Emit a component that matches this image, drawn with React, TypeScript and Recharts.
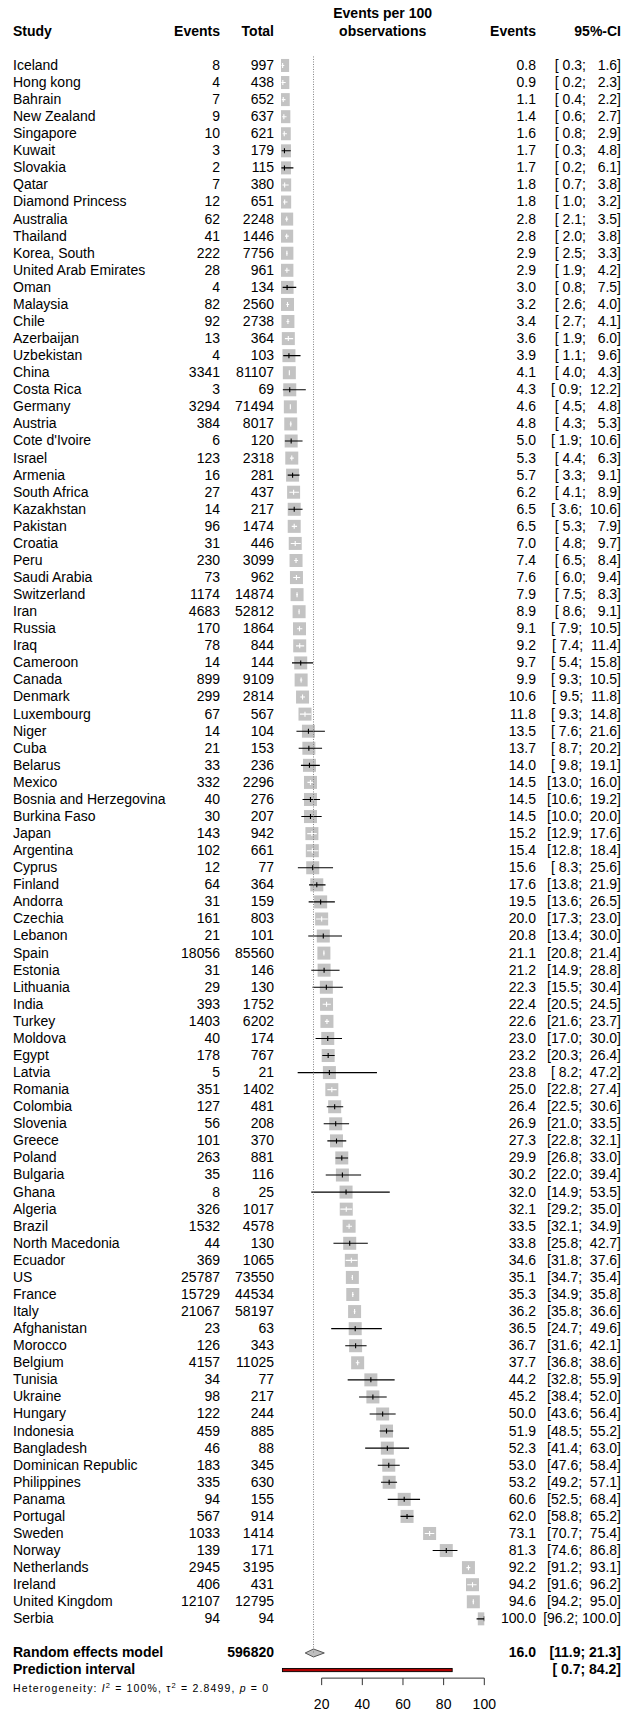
import React from 'react';
import { ComposedChart, Bar, XAxis, YAxis, ReferenceLine } from 'recharts';

const FONT = '"Liberation Sans", Arial, Helvetica, sans-serif';

const studyNames = ["Iceland","Hong kong","Bahrain","New Zealand","Singapore","Kuwait","Slovakia","Qatar","Diamond Princess","Australia","Thailand","Korea, South","United Arab Emirates","Oman","Malaysia","Chile","Azerbaijan","Uzbekistan","China","Costa Rica","Germany","Austria","Cote d'Ivoire","Israel","Armenia","South Africa","Kazakhstan","Pakistan","Croatia","Peru","Saudi Arabia","Switzerland","Iran","Russia","Iraq","Cameroon","Canada","Denmark","Luxembourg","Niger","Cuba","Belarus","Mexico","Bosnia and Herzegovina","Burkina Faso","Japan","Argentina","Cyprus","Finland","Andorra","Czechia","Lebanon","Spain","Estonia","Lithuania","India","Turkey","Moldova","Egypt","Latvia","Romania","Colombia","Slovenia","Greece","Poland","Bulgaria","Ghana","Algeria","Brazil","North Macedonia","Ecuador","US","France","Italy","Afghanistan","Morocco","Belgium","Tunisia","Ukraine","Hungary","Indonesia","Bangladesh","Dominican Republic","Philippines","Panama","Portugal","Sweden","Norway","Netherlands","Ireland","United Kingdom","Serbia"];

const eventCounts = [8,4,7,9,10,3,2,7,12,62,41,222,28,4,82,92,13,4,3341,3,3294,384,6,123,16,27,14,96,31,230,73,1174,4683,170,78,14,899,299,67,14,21,33,332,40,30,143,102,12,64,31,161,21,18056,31,29,393,1403,40,178,5,351,127,56,101,263,35,8,326,1532,44,369,25787,15729,21067,23,126,4157,34,98,122,459,46,183,335,94,567,1033,139,2945,406,12107,94];

const totalCounts = [997,438,652,637,621,179,115,380,651,2248,1446,7756,961,134,2560,2738,364,103,81107,69,71494,8017,120,2318,281,437,217,1474,446,3099,962,14874,52812,1864,844,144,9109,2814,567,104,153,236,2296,276,207,942,661,77,364,159,803,101,85560,146,130,1752,6202,174,767,21,1402,481,208,370,881,116,25,1017,4578,130,1065,73550,44534,58197,63,343,11025,77,217,244,885,88,345,630,155,914,1414,171,3195,431,12795,94];

const estimates = [0.8,0.9,1.1,1.4,1.6,1.7,1.7,1.8,1.8,2.8,2.8,2.9,2.9,3.0,3.2,3.4,3.6,3.9,4.1,4.3,4.6,4.8,5.0,5.3,5.7,6.2,6.5,6.5,7.0,7.4,7.6,7.9,8.9,9.1,9.2,9.7,9.9,10.6,11.8,13.5,13.7,14.0,14.5,14.5,14.5,15.2,15.4,15.6,17.6,19.5,20.0,20.8,21.1,21.2,22.3,22.4,22.6,23.0,23.2,23.8,25.0,26.4,26.9,27.3,29.9,30.2,32.0,32.1,33.5,33.8,34.6,35.1,35.3,36.2,36.5,36.7,37.7,44.2,45.2,50.0,51.9,52.3,53.0,53.2,60.6,62.0,73.1,81.3,92.2,94.2,94.6,100.0];

const lowerCI = [0.3,0.2,0.4,0.6,0.8,0.3,0.2,0.7,1.0,2.1,2.0,2.5,1.9,0.8,2.6,2.7,1.9,1.1,4.0,0.9,4.5,4.3,1.9,4.4,3.3,4.1,3.6,5.3,4.8,6.5,6.0,7.5,8.6,7.9,7.4,5.4,9.3,9.5,9.3,7.6,8.7,9.8,13.0,10.6,10.0,12.9,12.8,8.3,13.8,13.6,17.3,13.4,20.8,14.9,15.5,20.5,21.6,17.0,20.3,8.2,22.8,22.5,21.0,22.8,26.8,22.0,14.9,29.2,32.1,25.8,31.8,34.7,34.9,35.8,24.7,31.6,36.8,32.8,38.4,43.6,48.5,41.4,47.6,49.2,52.5,58.8,70.7,74.6,91.2,91.6,94.2,96.2];

const upperCI = [1.6,2.3,2.2,2.7,2.9,4.8,6.1,3.8,3.2,3.5,3.8,3.3,4.2,7.5,4.0,4.1,6.0,9.6,4.3,12.2,4.8,5.3,10.6,6.3,9.1,8.9,10.6,7.9,9.7,8.4,9.4,8.3,9.1,10.5,11.4,15.8,10.5,11.8,14.8,21.6,20.2,19.1,16.0,19.2,20.0,17.6,18.4,25.6,21.9,26.5,23.0,30.0,21.4,28.8,30.4,24.5,23.7,30.0,26.4,47.2,27.4,30.6,33.5,32.1,33.0,39.4,53.5,35.0,34.9,42.7,37.6,35.4,35.8,36.6,49.6,42.1,38.6,55.9,52.0,56.4,55.2,63.0,58.4,57.1,68.4,65.2,75.4,86.8,93.1,96.2,95.0,100.0];

const axisTicks = [20, 40, 60, 80, 100];
const pooledTotal = 596820;
const randomEffect = { est: 16.0, lower: 11.9, upper: 21.3 };
const predictionInterval = { lower: 0.7, upper: 84.2 };
const heterogeneity = { i2: '100%', tau2: '2.8499', p: '0' };

const nStudies = studyNames.length;
const ROW_RANDOM = nStudies + 1;
const ROW_PREDICT = nStudies + 2;

type Row = {
  row: number; kind: 'study' | 'random' | 'predict'; name: string;
  events: string; total: string; est: number; lower: number; upper: number;
  rng: [number, number]; estText: string; ciText: string;
};

const f1 = (v: number) => v.toFixed(1);
const rows: Row[] = studyNames.map((name, i) => ({
  row: i, kind: 'study', name,
  events: String(eventCounts[i]), total: String(totalCounts[i]),
  est: estimates[i], lower: lowerCI[i], upper: upperCI[i],
  rng: [lowerCI[i], upperCI[i]],
  estText: f1(estimates[i]),
  ciText: '[' + f1(lowerCI[i]).padStart(4, ' ') + '; ' + f1(upperCI[i]).padStart(5, ' ') + ']',
}));
rows.push({
  row: ROW_RANDOM, kind: 'random', name: 'Random effects model', events: '',
  total: String(pooledTotal), est: randomEffect.est, lower: randomEffect.lower, upper: randomEffect.upper,
  rng: [randomEffect.lower, randomEffect.upper], estText: f1(randomEffect.est),
  ciText: '[' + f1(randomEffect.lower).padStart(4, ' ') + '; ' + f1(randomEffect.upper).padStart(4, ' ') + ']',
});
rows.push({
  row: ROW_PREDICT, kind: 'predict', name: 'Prediction interval', events: '', total: '',
  est: (predictionInterval.lower + predictionInterval.upper) / 2,
  lower: predictionInterval.lower, upper: predictionInterval.upper,
  rng: [predictionInterval.lower, predictionInterval.upper], estText: '',
  ciText: '[' + f1(predictionInterval.lower).padStart(4, ' ') + '; ' + f1(predictionInterval.upper).padStart(4, ' ') + ']',
});
const byRow = new Map<number, Row>(rows.map((r) => [r.row, r]));
const yTicks = Array.from({ length: ROW_PREDICT + 1 }, (_, i) => i);

const W = 626;
const H = 1711;
const ROW_H = 17.07;
const PLOT_TOP = 65 - ROW_H / 2;
const PLOT_BOTTOM = PLOT_TOP + ROW_H * (ROW_PREDICT + 1);
const PLOT_LEFT = 281;
const PLOT_RIGHT = 484.3;
const SQ_HALF = 6.5;
const INSIDE_HALF = 6.2;

const COL_EVENTS = 220;
const COL_TOTAL = 274;
const COL_EST = 536;
const COL_CI = 621;

const RowShape = (props: any) => {
  const { x, y, width, height, payload } = props;
  if (x == null || width == null || !payload) return null;
  const cy = y + height / 2;
  const lo = payload.lower;
  const hi = payload.upper;
  const ppu = width / (hi - lo);
  const ex = x + (payload.est - lo) * ppu;
  if (payload.kind === 'random') {
    const h = 4;
    return (
      <polygon
        points={`${x},${cy} ${ex},${cy - h} ${x + width},${cy} ${ex},${cy + h}`}
        fill="#bebebe" stroke="#555" strokeWidth={1}
      />
    );
  }
  if (payload.kind === 'predict') {
    return <rect x={x} y={cy - 1.6} width={width} height={3.2} fill="#b00000" stroke="#000" strokeWidth={0.9} />;
  }
  const inside = ex - x <= INSIDE_HALF && x + width - ex <= INSIDE_HALF;
  const c = inside ? '#ffffff' : '#000000';
  return (
    <g>
      <rect x={ex - SQ_HALF} y={cy - SQ_HALF} width={SQ_HALF * 2} height={SQ_HALF * 2} fill="#c3c3c3" />
      <line x1={x} x2={x + width} y1={cy} y2={cy} stroke={c} strokeWidth={1.1} />
      <line x1={ex} x2={ex} y1={cy - 2.5} y2={cy + 2.5} stroke={c} strokeWidth={1.1} />
    </g>
  );
};

const RowTick = (props: any) => {
  const { y, payload } = props;
  const r = byRow.get(Number(payload?.value));
  if (!r) return <g />;
  const bold = r.kind !== 'study';
  const common = { y, dy: '0.35em', fontFamily: FONT, fontSize: 14, fontWeight: bold ? 'bold' : 'normal', fill: '#000' } as any;
  return (
    <g>
      <text x={13} textAnchor="start" {...common}>{r.name}</text>
      {r.events ? <text x={COL_EVENTS} textAnchor="end" {...common}>{r.events}</text> : null}
      {r.total ? <text x={COL_TOTAL} textAnchor="end" {...common}>{r.total}</text> : null}
      {r.estText ? <text x={COL_EST} textAnchor="end" {...common}>{r.estText}</text> : null}
      <text x={COL_CI} textAnchor="end" {...common} xmlSpace="preserve" style={{ whiteSpace: 'pre' }}>{r.ciText}</text>
    </g>
  );
};

const Header = () => {
  const h = { fontFamily: FONT, fontSize: 14, fontWeight: 'bold', fill: '#000', dy: '0.35em' } as any;
  const hy = 31;
  return (
    <svg width={W} height={H} style={{ position: 'absolute', left: 0, top: 0, pointerEvents: 'none' }}>
      <text x={13} y={hy} {...h}>Study</text>
      <text x={COL_EVENTS} y={hy} textAnchor="end" {...h}>Events</text>
      <text x={COL_TOTAL} y={hy} textAnchor="end" {...h}>Total</text>
      <text x={(PLOT_LEFT + PLOT_RIGHT) / 2} y={13.5} textAnchor="middle" {...h}>Events per 100</text>
      <text x={(PLOT_LEFT + PLOT_RIGHT) / 2} y={hy} textAnchor="middle" {...h}>observations</text>
      <text x={COL_EST} y={hy} textAnchor="end" {...h}>Events</text>
      <text x={COL_CI} y={hy} textAnchor="end" {...h}>95%-CI</text>
      <text x={13} y={1688} dy="0.35em" fontFamily={FONT} fontSize={10.5} fill="#000" xmlSpace="preserve" style={{ whiteSpace: 'pre' }} textLength={255} lengthAdjust="spacing">
        {'Heterogeneity: '}
        <tspan fontStyle="italic">I</tspan>
        <tspan fontSize={7.5} dy="-4">2</tspan>
        <tspan dy="4">{' = ' + heterogeneity.i2 + ', '}</tspan>
        <tspan>τ</tspan>
        <tspan fontSize={7.5} dy="-4">2</tspan>
        <tspan dy="4">{' = ' + heterogeneity.tau2 + ', '}</tspan>
        <tspan fontStyle="italic">p</tspan>
        <tspan>{' = ' + heterogeneity.p}</tspan>
      </text>
    </svg>
  );
};

export default function App() {
  return (
    <div style={{ position: 'absolute', left: 0, top: 0, width: W, height: H, background: '#fff' }}>
      <ComposedChart
        width={W}
        height={H}
        layout="vertical"
        data={rows}
        margin={{ top: PLOT_TOP, left: PLOT_LEFT - 1, right: W - PLOT_RIGHT, bottom: 0 }}
      >
        <XAxis
          type="number"
          domain={[0, 100]}
          ticks={axisTicks}
          allowDataOverflow
          axisLine={false}
          tickLine={{ stroke: '#333' }}
          tickSize={7}
          tickMargin={14}
          height={H - PLOT_BOTTOM}
          tick={{ fill: '#000', fontSize: 14, fontFamily: FONT }}
        />
        <YAxis
          type="number"
          dataKey="row"
          domain={[-0.5, ROW_PREDICT + 0.5]}
          allowDataOverflow
          ticks={yTicks}
          interval={0}
          width={1}
          axisLine={false}
          tickLine={false}
          tick={(p: any) => <RowTick {...p} />}
        />
        <ReferenceLine
          segment={[{ x: randomEffect.est, y: -0.5 }, { x: randomEffect.est, y: ROW_RANDOM }]}
          stroke="#808080"
          strokeDasharray="1 1.5"
          strokeWidth={1}
          ifOverflow="visible"
        />
        <Bar dataKey="rng" barSize={12} isAnimationActive={false} shape={(p: any) => <RowShape {...p} />} />
        <ReferenceLine
          segment={[{ x: axisTicks[0], y: ROW_PREDICT + 0.5 }, { x: axisTicks[axisTicks.length - 1], y: ROW_PREDICT + 0.5 }]}
          stroke="#333"
          strokeWidth={1}
          ifOverflow="visible"
        />
      </ComposedChart>
      <Header />
    </div>
  );
}
